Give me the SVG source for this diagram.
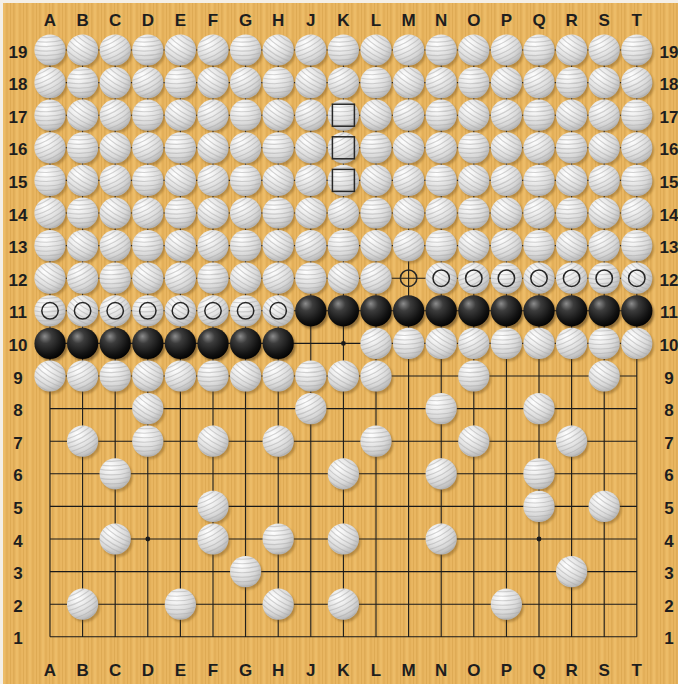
<svg xmlns="http://www.w3.org/2000/svg" xmlns:xlink="http://www.w3.org/1999/xlink" width="678" height="684" viewBox="0 0 678 684">
<style>
.lbl{font-family:"Liberation Sans",Arial,sans-serif;font-weight:bold;font-size:17px;fill:#1e1e1e;text-anchor:middle}
.grid{stroke:#1a1a1a;stroke-width:1.1;fill:none}
.mk{fill:none;stroke:#262626;stroke-width:1.5}
.star{fill:#1a1a1a}
</style>
<defs>
<pattern id="wood" width="13" height="40" patternUnits="userSpaceOnUse">
<rect width="13" height="40" fill="#e9b661"/>
<rect x="0" width="1.6" height="40" fill="#d7a14b" opacity=".55"/>
<rect x="3.5" width="1" height="40" fill="#f3c875" opacity=".7"/>
<rect x="6" width="2.2" height="40" fill="#dba64f" opacity=".45"/>
<rect x="10" width="1" height="40" fill="#d49e48" opacity=".5"/>
</pattern>
<radialGradient id="wg" cx=".4" cy=".35" r=".68" fx=".33" fy=".27">
<stop offset="0" stop-color="#ffffff"/>
<stop offset=".25" stop-color="#f3f3f3"/>
<stop offset=".7" stop-color="#d8d8d8"/>
<stop offset="1" stop-color="#b4b4b4"/>
</radialGradient>
<radialGradient id="bg" cx=".4" cy=".35" r=".7" fx=".33" fy=".27">
<stop offset="0" stop-color="#8c8c8c"/>
<stop offset=".3" stop-color="#3c3c3c"/>
<stop offset=".75" stop-color="#121212"/>
<stop offset="1" stop-color="#000"/>
</radialGradient>
<filter id="blur" x="-30%" y="-30%" width="160%" height="160%"><feGaussianBlur stdDeviation="1.2"/></filter>
<clipPath id="sc"><circle r="15.6"/></clipPath>
<path id="stripes" d="M-18,-14 Q0,-10 18,-16 M-18,-9.5 Q0,-5.5 18,-11.5 M-18,-5 Q0,-1 18,-7 M-18,-0.5 Q0,3.5 18,-2.5 M-18,4 Q0,8 18,2 M-18,8.5 Q0,12.5 18,6.5 M-18,13 Q0,17 18,11 M-18,17.5 Q0,21.5 18,15.5"/>
<g id="w1">
<circle cx="2" cy="2.5" r="15.4" fill="#6e4c14" opacity=".4" filter="url(#blur)"/>
<circle r="15.6" fill="url(#wg)"/>
<g clip-path="url(#sc)" fill="none" stroke="#a9a9a9" stroke-width="1.1" opacity=".5"><use href="#stripes"/></g>
</g>
<g id="w2">
<circle cx="2" cy="2.5" r="15.4" fill="#6e4c14" opacity=".4" filter="url(#blur)"/>
<circle r="15.6" fill="url(#wg)"/>
<g clip-path="url(#sc)" fill="none" stroke="#a9a9a9" stroke-width="1.1" opacity=".5"><use href="#stripes" transform="rotate(35)"/></g>
</g>
<g id="w3">
<circle cx="2" cy="2.5" r="15.4" fill="#6e4c14" opacity=".4" filter="url(#blur)"/>
<circle r="15.6" fill="url(#wg)"/>
<g clip-path="url(#sc)" fill="none" stroke="#a9a9a9" stroke-width="1.1" opacity=".5"><use href="#stripes" transform="rotate(-25)"/></g>
</g>
<g id="b">
<circle cx="2" cy="2.5" r="15.4" fill="#3a2808" opacity=".5" filter="url(#blur)"/>
<circle r="15.6" fill="url(#bg)"/>
</g>
<g id="wrowA">
<use href="#w1" x="50"/><use href="#w2" x="82.6"/><use href="#w3" x="115.2"/><use href="#w1" x="147.8"/><use href="#w2" x="180.4"/><use href="#w3" x="213"/><use href="#w1" x="245.6"/><use href="#w2" x="278.2"/><use href="#w3" x="310.8"/><use href="#w1" x="343.4"/><use href="#w2" x="376"/><use href="#w3" x="408.6"/><use href="#w1" x="441.2"/><use href="#w2" x="473.8"/><use href="#w3" x="506.4"/><use href="#w1" x="539"/><use href="#w2" x="571.6"/><use href="#w3" x="604.2"/><use href="#w1" x="636.8"/>
</g>
<g id="wrowB">
<use href="#w3" x="50"/><use href="#w1" x="82.6"/><use href="#w2" x="115.2"/><use href="#w3" x="147.8"/><use href="#w1" x="180.4"/><use href="#w2" x="213"/><use href="#w3" x="245.6"/><use href="#w1" x="278.2"/><use href="#w2" x="310.8"/><use href="#w3" x="343.4"/><use href="#w1" x="376"/><use href="#w2" x="408.6"/><use href="#w3" x="441.2"/><use href="#w1" x="473.8"/><use href="#w2" x="506.4"/><use href="#w3" x="539"/><use href="#w1" x="571.6"/><use href="#w2" x="604.2"/><use href="#w3" x="636.8"/>
</g>
</defs>
<rect width="678" height="684" fill="#f4efe6"/>
<rect x="3" y="3" width="675" height="681" fill="url(#wood)"/>
<g id="grid">
<path class="grid" d="M50,50H636.8M50,82.6H636.8M50,115.2H636.8M50,147.8H636.8M50,180.4H636.8M50,213H636.8M50,245.6H636.8M50,278.2H636.8M50,310.8H636.8M50,343.4H636.8M50,376H636.8M50,408.6H636.8M50,441.2H636.8M50,473.8H636.8M50,506.4H636.8M50,539H636.8M50,571.6H636.8M50,604.2H636.8M50,636.8H636.8M50,50V636.8M82.6,50V636.8M115.2,50V636.8M147.8,50V636.8M180.4,50V636.8M213,50V636.8M245.6,50V636.8M278.2,50V636.8M310.8,50V636.8M343.4,50V636.8M376,50V636.8M408.6,50V636.8M441.2,50V636.8M473.8,50V636.8M506.4,50V636.8M539,50V636.8M571.6,50V636.8M604.2,50V636.8M636.8,50V636.8"/>
<circle class="star" cx="147.8" cy="539" r="2.4"/>
<circle class="star" cx="539" cy="539" r="2.4"/>
<circle class="star" cx="343.4" cy="343.4" r="2.4"/>
</g>
<g id="labels">
<text class="lbl" x="50" y="26">A</text><text class="lbl" x="82.6" y="26">B</text><text class="lbl" x="115.2" y="26">C</text><text class="lbl" x="147.8" y="26">D</text><text class="lbl" x="180.4" y="26">E</text><text class="lbl" x="213" y="26">F</text><text class="lbl" x="245.6" y="26">G</text><text class="lbl" x="278.2" y="26">H</text><text class="lbl" x="310.8" y="26">J</text><text class="lbl" x="343.4" y="26">K</text><text class="lbl" x="376" y="26">L</text><text class="lbl" x="408.6" y="26">M</text><text class="lbl" x="441.2" y="26">N</text><text class="lbl" x="473.8" y="26">O</text><text class="lbl" x="506.4" y="26">P</text><text class="lbl" x="539" y="26">Q</text><text class="lbl" x="571.6" y="26">R</text><text class="lbl" x="604.2" y="26">S</text><text class="lbl" x="636.8" y="26">T</text>
<text class="lbl" x="50" y="676">A</text><text class="lbl" x="82.6" y="676">B</text><text class="lbl" x="115.2" y="676">C</text><text class="lbl" x="147.8" y="676">D</text><text class="lbl" x="180.4" y="676">E</text><text class="lbl" x="213" y="676">F</text><text class="lbl" x="245.6" y="676">G</text><text class="lbl" x="278.2" y="676">H</text><text class="lbl" x="310.8" y="676">J</text><text class="lbl" x="343.4" y="676">K</text><text class="lbl" x="376" y="676">L</text><text class="lbl" x="408.6" y="676">M</text><text class="lbl" x="441.2" y="676">N</text><text class="lbl" x="473.8" y="676">O</text><text class="lbl" x="506.4" y="676">P</text><text class="lbl" x="539" y="676">Q</text><text class="lbl" x="571.6" y="676">R</text><text class="lbl" x="604.2" y="676">S</text><text class="lbl" x="636.8" y="676">T</text>
<text class="lbl" x="18" y="58">19</text><text class="lbl" x="18" y="90.1">18</text><text class="lbl" x="18" y="122.7">17</text><text class="lbl" x="18" y="155.3">16</text><text class="lbl" x="18" y="187.9">15</text><text class="lbl" x="18" y="220.5">14</text><text class="lbl" x="18" y="253.1">13</text><text class="lbl" x="18" y="285.7">12</text><text class="lbl" x="18" y="318.3">11</text><text class="lbl" x="18" y="350.9">10</text><text class="lbl" x="18" y="383.5">9</text><text class="lbl" x="18" y="416.1">8</text><text class="lbl" x="18" y="448.7">7</text><text class="lbl" x="18" y="481.3">6</text><text class="lbl" x="18" y="513.9">5</text><text class="lbl" x="18" y="546.5">4</text><text class="lbl" x="18" y="579.1">3</text><text class="lbl" x="18" y="611.7">2</text><text class="lbl" x="18" y="644.3">1</text>
<text class="lbl" x="669" y="58">19</text><text class="lbl" x="669" y="90.1">18</text><text class="lbl" x="669" y="122.7">17</text><text class="lbl" x="669" y="155.3">16</text><text class="lbl" x="669" y="187.9">15</text><text class="lbl" x="669" y="220.5">14</text><text class="lbl" x="669" y="253.1">13</text><text class="lbl" x="669" y="285.7">12</text><text class="lbl" x="669" y="318.3">11</text><text class="lbl" x="669" y="350.9">10</text><text class="lbl" x="669" y="383.5">9</text><text class="lbl" x="669" y="416.1">8</text><text class="lbl" x="669" y="448.7">7</text><text class="lbl" x="669" y="481.3">6</text><text class="lbl" x="669" y="513.9">5</text><text class="lbl" x="669" y="546.5">4</text><text class="lbl" x="669" y="579.1">3</text><text class="lbl" x="669" y="611.7">2</text><text class="lbl" x="669" y="644.3">1</text>
</g>
<g id="stones">
<use href="#wrowA" y="50"/>
<use href="#wrowB" y="82.6"/>
<use href="#wrowA" x="0" y="115.2" transform="translate(0,0)"/>
<use href="#wrowB" y="147.8"/>
<use href="#wrowA" y="180.4"/>
<use href="#wrowB" y="213"/>
<use href="#wrowA" y="245.6"/>
<g id="row12">
<use href="#w2" x="50" y="278.2"/><use href="#w3" x="82.6" y="278.2"/><use href="#w1" x="115.2" y="278.2"/><use href="#w2" x="147.8" y="278.2"/><use href="#w3" x="180.4" y="278.2"/><use href="#w1" x="213" y="278.2"/><use href="#w2" x="245.6" y="278.2"/><use href="#w3" x="278.2" y="278.2"/><use href="#w1" x="310.8" y="278.2"/><use href="#w2" x="343.4" y="278.2"/><use href="#w3" x="376" y="278.2"/><use href="#w2" x="441.2" y="278.2"/><use href="#w3" x="473.8" y="278.2"/><use href="#w1" x="506.4" y="278.2"/><use href="#w2" x="539" y="278.2"/><use href="#w3" x="571.6" y="278.2"/><use href="#w1" x="604.2" y="278.2"/><use href="#w2" x="636.8" y="278.2"/>
</g>
<g id="row11">
<use href="#w1" x="50" y="310.8"/><use href="#w2" x="82.6" y="310.8"/><use href="#w3" x="115.2" y="310.8"/><use href="#w1" x="147.8" y="310.8"/><use href="#w2" x="180.4" y="310.8"/><use href="#w3" x="213" y="310.8"/><use href="#w1" x="245.6" y="310.8"/><use href="#w2" x="278.2" y="310.8"/>
<use href="#b" x="310.8" y="310.8"/><use href="#b" x="343.4" y="310.8"/><use href="#b" x="376" y="310.8"/><use href="#b" x="408.6" y="310.8"/><use href="#b" x="441.2" y="310.8"/><use href="#b" x="473.8" y="310.8"/><use href="#b" x="506.4" y="310.8"/><use href="#b" x="539" y="310.8"/><use href="#b" x="571.6" y="310.8"/><use href="#b" x="604.2" y="310.8"/><use href="#b" x="636.8" y="310.8"/>
</g>
<g id="row10">
<use href="#b" x="50" y="343.4"/><use href="#b" x="82.6" y="343.4"/><use href="#b" x="115.2" y="343.4"/><use href="#b" x="147.8" y="343.4"/><use href="#b" x="180.4" y="343.4"/><use href="#b" x="213" y="343.4"/><use href="#b" x="245.6" y="343.4"/><use href="#b" x="278.2" y="343.4"/>
<use href="#w3" x="376" y="343.4"/><use href="#w1" x="408.6" y="343.4"/><use href="#w2" x="441.2" y="343.4"/><use href="#w3" x="473.8" y="343.4"/><use href="#w1" x="506.4" y="343.4"/><use href="#w2" x="539" y="343.4"/><use href="#w3" x="571.6" y="343.4"/><use href="#w1" x="604.2" y="343.4"/><use href="#w2" x="636.8" y="343.4"/>
</g>
<g id="row9">
<use href="#w2" x="50" y="376"/><use href="#w3" x="82.6" y="376"/><use href="#w1" x="115.2" y="376"/><use href="#w2" x="147.8" y="376"/><use href="#w3" x="180.4" y="376"/><use href="#w1" x="213" y="376"/><use href="#w2" x="245.6" y="376"/><use href="#w3" x="278.2" y="376"/><use href="#w1" x="310.8" y="376"/><use href="#w2" x="343.4" y="376"/><use href="#w3" x="376" y="376"/><use href="#w1" x="473.8" y="376"/><use href="#w2" x="604.2" y="376"/>
</g>
<g id="lower">
<use href="#w2" x="147.8" y="408.6"/><use href="#w3" x="310.8" y="408.6"/><use href="#w1" x="441.2" y="408.6"/><use href="#w2" x="539" y="408.6"/>
<use href="#w3" x="82.6" y="441.2"/><use href="#w1" x="147.8" y="441.2"/><use href="#w2" x="213" y="441.2"/><use href="#w3" x="278.2" y="441.2"/><use href="#w1" x="376" y="441.2"/><use href="#w2" x="473.8" y="441.2"/><use href="#w3" x="571.6" y="441.2"/>
<use href="#w1" x="115.2" y="473.8"/><use href="#w2" x="343.4" y="473.8"/><use href="#w3" x="441.2" y="473.8"/><use href="#w1" x="539" y="473.8"/>
<use href="#w3" x="213" y="506.4"/><use href="#w1" x="539" y="506.4"/><use href="#w2" x="604.2" y="506.4"/>
<use href="#w2" x="115.2" y="539"/><use href="#w3" x="213" y="539"/><use href="#w1" x="278.2" y="539"/><use href="#w2" x="343.4" y="539"/><use href="#w3" x="441.2" y="539"/>
<use href="#w1" x="245.6" y="571.6"/><use href="#w2" x="571.6" y="571.6"/>
<use href="#w3" x="82.6" y="604.2"/><use href="#w1" x="180.4" y="604.2"/><use href="#w2" x="278.2" y="604.2"/><use href="#w3" x="343.4" y="604.2"/><use href="#w1" x="506.4" y="604.2"/>
</g>
</g>
<g id="markers">
<rect class="mk" x="332.4" y="104.2" width="22" height="22"/>
<rect class="mk" x="332.4" y="136.8" width="22" height="22"/>
<rect class="mk" x="332.4" y="169.4" width="22" height="22"/>
<circle class="mk" cx="408.6" cy="278.2" r="8.2"/>
<circle class="mk" cx="441.2" cy="278.2" r="8.2"/><circle class="mk" cx="473.8" cy="278.2" r="8.2"/><circle class="mk" cx="506.4" cy="278.2" r="8.2"/><circle class="mk" cx="539" cy="278.2" r="8.2"/><circle class="mk" cx="571.6" cy="278.2" r="8.2"/><circle class="mk" cx="604.2" cy="278.2" r="8.2"/><circle class="mk" cx="636.8" cy="278.2" r="8.2"/>
<circle class="mk" cx="50" cy="310.8" r="8.2"/><circle class="mk" cx="82.6" cy="310.8" r="8.2"/><circle class="mk" cx="115.2" cy="310.8" r="8.2"/><circle class="mk" cx="147.8" cy="310.8" r="8.2"/><circle class="mk" cx="180.4" cy="310.8" r="8.2"/><circle class="mk" cx="213" cy="310.8" r="8.2"/><circle class="mk" cx="245.6" cy="310.8" r="8.2"/><circle class="mk" cx="278.2" cy="310.8" r="8.2"/>
</g>
</svg>
